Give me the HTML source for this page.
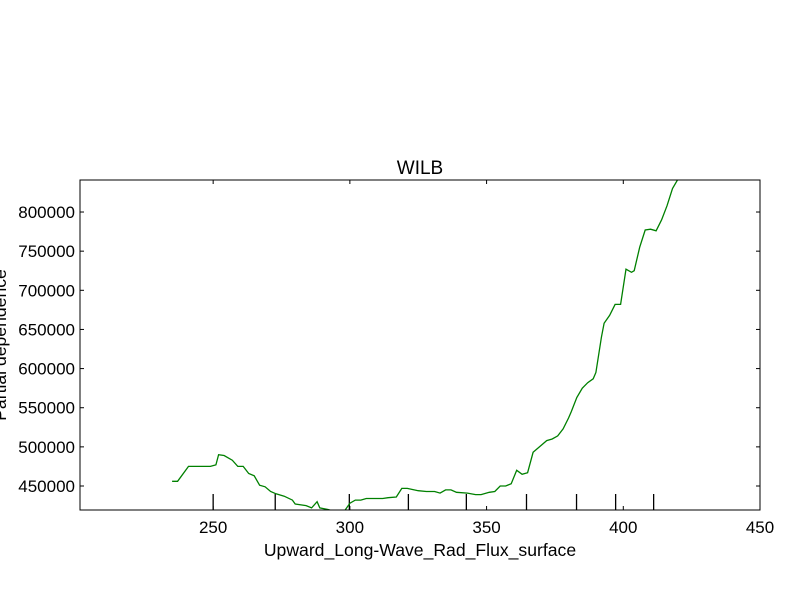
<!DOCTYPE html>
<html><head><meta charset="utf-8"><style>
html,body{margin:0;padding:0;background:#fff}
text{font-family:"Liberation Sans","DejaVu Sans",sans-serif;fill:#000}
</style></head><body>
<svg id="chart" width="800" height="600" xmlns="http://www.w3.org/2000/svg">
<defs><clipPath id="pc"><rect x="80" y="180" width="680" height="330"/></clipPath></defs>
<rect width="800" height="600" fill="#fff"/>
<text x="420" y="174" font-size="19" text-anchor="middle">WILB</text>
<g id="ticks"></g>
<polyline id="line" clip-path="url(#pc)" fill="none" stroke="#008000" stroke-width="1.3"/>
<rect x="80" y="180" width="680" height="330" fill="none" stroke="#000" stroke-width="1"/>
<text x="420" y="556" font-size="17.6" text-anchor="middle">Upward_Long-Wave_Rad_Flux_surface</text>
<text x="-345" y="6" font-size="17.6" text-anchor="middle" transform="rotate(-90)">Partial dependence</text>
</svg>
<script>
const xVals=[235,237,241,245,249,251,252,254,257,259,261,263,265,267,269,271,273,276,279,280,284,286,288,289,292,294,298,300,302,304,306,312,314,317,319,321,325,328,331,333,335,337,339,343,346,348,351,353,355,357,359,361,363,365,367,370,372,374,376,378,380,381,383,385,387,389,390,392,393,395,397,399,401,403,404,406,408,410,412,414,416,418,420];
const yVals=[456000,456000,475000,475000,475000,477000,490000,489000,483000,475000,475000,466000,463000,451000,449000,443000,440000,437000,432000,427000,425000,422000,430000,422000,420000,418000,418000,428000,432000,432000,434000,434000,435000,436000,447000,447000,444000,443000,443000,441000,445000,445000,442000,441000,439000,439000,442000,443000,450000,450000,453000,470000,465000,467000,493000,502000,508000,510000,514000,523000,537000,545000,563000,575000,582000,587000,595000,640000,658000,668000,682000,682000,727000,723000,725000,755000,777000,778000,776000,790000,808000,830000,842000];
const xTicks=[250,300,350,400,450];
const yTicks=[450000,500000,550000,600000,650000,700000,750000,800000];
const deciles=[250,272.7,299.8,321.4,342.6,364.6,382.9,397.2,411.1];
const X0=201.3,X1=450,Y0=419350,Y1=840900;
function sx(v){return 80+(v-X0)/(X1-X0)*680;}
function sy(v){return 510-(v-Y0)/(Y1-Y0)*330;}
const NS="http://www.w3.org/2000/svg";
const g=document.getElementById('ticks');
function mk(t,a){const e=document.createElementNS(NS,t);for(const k in a)e.setAttribute(k,a[k]);g.appendChild(e);return e;}
xTicks.forEach(v=>{
  const x=sx(v);
  const l1=mk('line',{x1:x,x2:x,y1:510,y2:506,stroke:'#000'});
  
  
  const l2=mk('line',{x1:x,x2:x,y1:180,y2:184,stroke:'#000'});
  
  
  const t=mk('text',{x:x,y:533,'font-size':17,'text-anchor':'middle'});t.textContent=v;
  
  
});
yTicks.forEach(v=>{
  const y=sy(v);
  const l1=mk('line',{x1:80,x2:84,y1:y,y2:y,stroke:'#000'});
  
  
  const l2=mk('line',{x1:760,x2:756,y1:y,y2:y,stroke:'#000'});
  
  
  const t=mk('text',{x:75,y:y+6,'font-size':17,'text-anchor':'end'});t.textContent=v;
  
  
});
deciles.forEach(v=>{
  const x=sx(v);
  const l=mk('line',{x1:x,x2:x,y1:510,y2:494,stroke:'#000','stroke-width':1.3});
  
  
});
document.getElementById('line').setAttribute('points',xVals.map((v,i)=>sx(v).toFixed(1)+','+sy(yVals[i]).toFixed(1)).join(' '));
</script>
</body></html>
